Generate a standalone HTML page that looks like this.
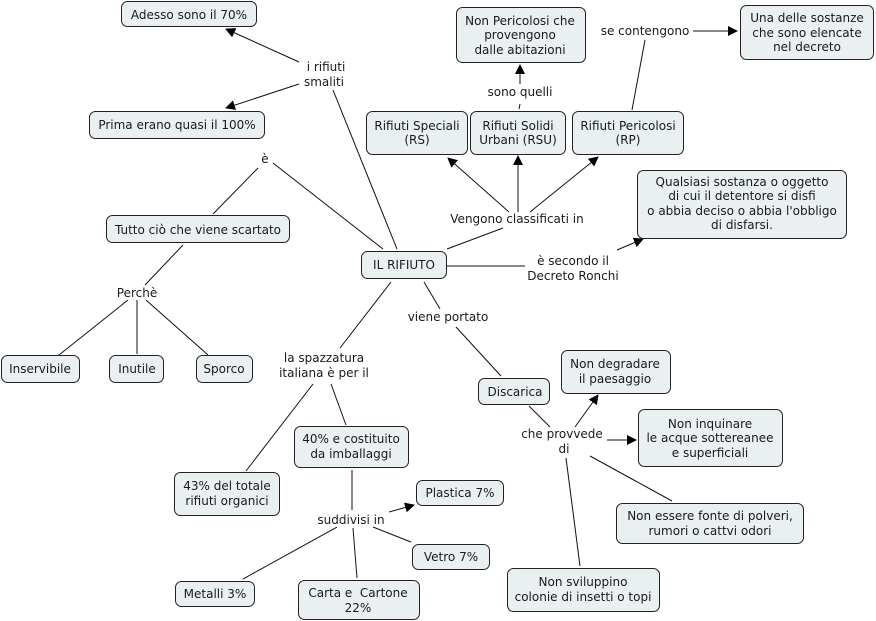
<!DOCTYPE html>
<html><head><meta charset="utf-8"><style>
html,body{margin:0;padding:0;background:#fff;}
svg{display:block;}
text{font-family:"DejaVu Sans","Liberation Sans",sans-serif;font-size:12px;fill:#1a1a1a;}
rect{fill:#eaf0f2;stroke:#222;stroke-width:1;}
line{stroke:#111;stroke-width:1;}
</style></head><body>
<svg width="876" height="621" viewBox="0 0 876 621" xmlns="http://www.w3.org/2000/svg">
<defs><marker id="a" viewBox="0 0 10 10" refX="9" refY="5" markerWidth="10" markerHeight="10" markerUnits="userSpaceOnUse" orient="auto"><path d="M0,0 L10,5 L0,10 z" fill="#000"/></marker></defs>
<g>
<line x1="299" y1="62" x2="226" y2="29" marker-end="url(#a)"/>
<line x1="299" y1="84" x2="226" y2="108" marker-end="url(#a)"/>
<line x1="333" y1="90" x2="397" y2="249"/>
<line x1="273" y1="163" x2="383" y2="249"/>
<line x1="258" y1="168" x2="213" y2="214"/>
<line x1="183" y1="245" x2="145" y2="285"/>
<line x1="128" y1="300" x2="59" y2="355"/>
<line x1="137" y1="300" x2="137" y2="354"/>
<line x1="146" y1="300" x2="208" y2="355"/>
<line x1="447" y1="249" x2="503" y2="228"/>
<line x1="509" y1="212" x2="448" y2="158" marker-end="url(#a)"/>
<line x1="518" y1="212" x2="518" y2="156" marker-end="url(#a)"/>
<line x1="530" y1="212" x2="598" y2="157" marker-end="url(#a)"/>
<line x1="519" y1="109" x2="520" y2="104"/>
<line x1="520" y1="84" x2="520" y2="65" marker-end="url(#a)"/>
<line x1="632" y1="110" x2="645" y2="40"/>
<line x1="693" y1="31" x2="737" y2="31" marker-end="url(#a)"/>
<line x1="447" y1="266" x2="525" y2="266"/>
<line x1="617" y1="250" x2="643" y2="239" marker-end="url(#a)"/>
<line x1="424" y1="282" x2="440" y2="309"/>
<line x1="456" y1="327" x2="501" y2="376"/>
<line x1="391" y1="282" x2="340" y2="348"/>
<line x1="313" y1="384" x2="246" y2="471"/>
<line x1="331" y1="384" x2="346" y2="425"/>
<line x1="352" y1="470" x2="352" y2="510"/>
<line x1="389" y1="512" x2="414" y2="505" marker-end="url(#a)"/>
<line x1="373" y1="527" x2="411" y2="542"/>
<line x1="337" y1="527" x2="243" y2="579"/>
<line x1="353" y1="528" x2="357" y2="578"/>
<line x1="529" y1="406" x2="550" y2="427"/>
<line x1="575" y1="427" x2="598" y2="395" marker-end="url(#a)"/>
<line x1="607" y1="440" x2="636" y2="440" marker-end="url(#a)"/>
<line x1="590" y1="456" x2="672" y2="501"/>
<line x1="566" y1="458" x2="580" y2="566"/>
</g>
<g>
<rect x="121.5" y="1.5" width="135" height="25" rx="6"/>
<rect x="89.5" y="111.5" width="175" height="27" rx="6"/>
<rect x="106.5" y="215.5" width="183" height="27" rx="6"/>
<rect x="361.5" y="251.5" width="85" height="27" rx="6"/>
<rect x="366.5" y="111.5" width="101" height="43" rx="6"/>
<rect x="470.5" y="111.5" width="95" height="43" rx="6"/>
<rect x="572.5" y="111.5" width="111" height="43" rx="6"/>
<rect x="456.5" y="7.5" width="129" height="55" rx="6"/>
<rect x="740.5" y="5.5" width="133" height="54" rx="6"/>
<rect x="637.5" y="170.5" width="209" height="68" rx="6"/>
<rect x="1.5" y="355.5" width="78" height="27" rx="6"/>
<rect x="109.5" y="355.5" width="54" height="27" rx="6"/>
<rect x="196.5" y="355.5" width="56" height="27" rx="6"/>
<rect x="478.5" y="378.5" width="71" height="26" rx="6"/>
<rect x="561.5" y="350.5" width="109" height="43" rx="6"/>
<rect x="638.5" y="409.5" width="144" height="57" rx="6"/>
<rect x="616.5" y="503.5" width="187" height="40" rx="6"/>
<rect x="507.5" y="568.5" width="152" height="43" rx="6"/>
<rect x="294.5" y="426.5" width="114" height="41" rx="6"/>
<rect x="174.5" y="472.5" width="105" height="43" rx="6"/>
<rect x="416.5" y="480.5" width="87" height="25" rx="6"/>
<rect x="412.5" y="544.5" width="77" height="25" rx="6"/>
<rect x="175.5" y="581.5" width="79" height="25" rx="6"/>
<rect x="298.5" y="580.5" width="121" height="39" rx="6"/>
</g>
<g text-anchor="middle">
<text x="189" y="19">Adesso sono il 70%</text>
<text x="177" y="129">Prima erano quasi il 100%</text>
<text x="198" y="234">Tutto ciò che viene scartato</text>
<text x="404" y="269">IL RIFIUTO</text>
<text x="417" y="130">Rifiuti Speciali</text><text x="417" y="144">(RS)</text>
<text x="518" y="130">Rifiuti Solidi</text><text x="518" y="144">Urbani (RSU)</text>
<text x="628" y="130">Rifiuti Pericolosi</text><text x="628" y="144">(RP)</text>
<text x="520" y="25">Non Pericolosi che</text><text x="520" y="39">provengono</text><text x="520" y="54">dalle abitazioni</text>
<text x="807" y="22">Una delle sostanze</text><text x="807" y="37">che sono elencate</text><text x="807" y="51">nel decreto</text>
<text x="742" y="186">Qualsiasi sostanza o oggetto</text><text x="742" y="200">di cui il detentore si disfi</text><text x="742" y="215">o abbia deciso o abbia l'obbligo</text><text x="742" y="229">di disfarsi.</text>
<text x="40" y="373">Inservibile</text>
<text x="137" y="373">Inutile</text>
<text x="224" y="373">Sporco</text>
<text x="515" y="396">Discarica</text>
<text x="615" y="368">Non degradare</text><text x="615" y="383">il paesaggio</text>
<text x="710" y="428">Non inquinare</text><text x="710" y="442">le acque sottereanee</text><text x="710" y="457">e superficiali</text>
<text x="710" y="520">Non essere fonte di polveri,</text><text x="710" y="535">rumori o cattvi odori</text>
<text x="583" y="586">Non sviluppino</text><text x="583" y="601">colonie di insetti o topi</text>
<text x="351" y="443">40% e costituito</text><text x="351" y="458">da imballaggi</text>
<text x="227" y="490">43% del totale</text><text x="227" y="505">rifiuti organici</text>
<text x="460" y="497">Plastica 7%</text>
<text x="451" y="561">Vetro 7%</text>
<text x="215" y="598">Metalli 3%</text>
<text x="358" y="597">Carta e&#160; Cartone</text><text x="358" y="612">22%</text>
<text x="326" y="71">i rifiuti</text><text x="324" y="86">smaliti</text>
<text x="265" y="163">è</text>
<text x="137" y="297">Perchè</text>
<text x="520" y="96">sono quelli</text>
<text x="645" y="35">se contengono</text>
<text x="517" y="223">Vengono classificati in</text>
<text x="573" y="265">è secondo il</text><text x="573" y="280">Decreto Ronchi</text>
<text x="448" y="321">viene portato</text>
<text x="324" y="362">la spazzatura</text><text x="324" y="377">italiana è per il</text>
<text x="562" y="438">che provvede</text><text x="564" y="453">di</text>
<text x="351" y="524">suddivisi in</text>
</g>
</svg>
</body></html>
